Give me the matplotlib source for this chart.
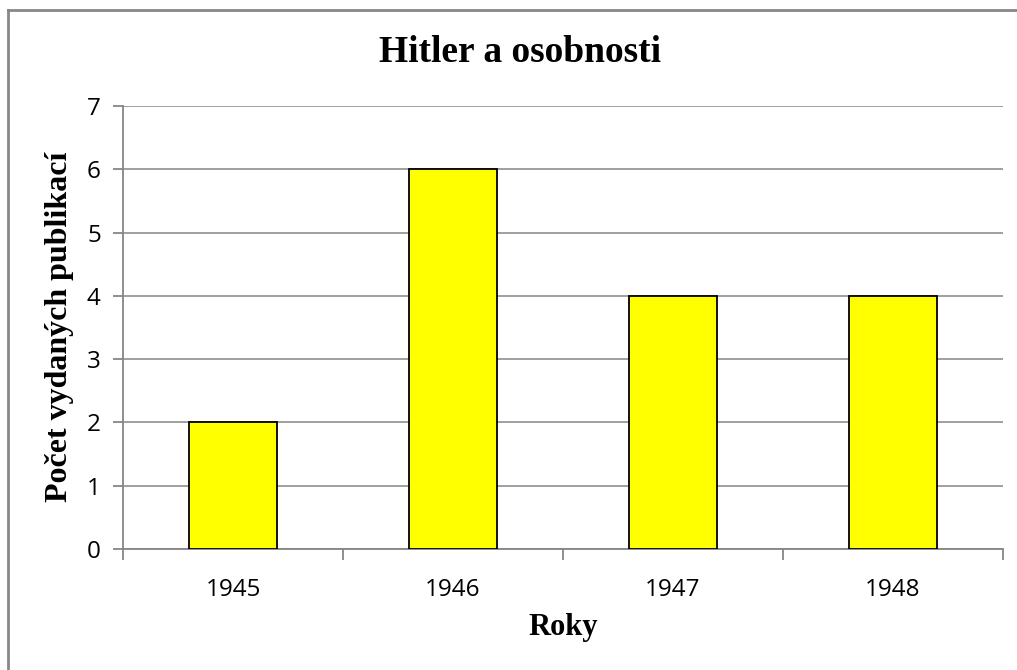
import matplotlib.pyplot as plt
from matplotlib.lines import Line2D

years = ['1945', '1946', '1947', '1948']
counts = [2, 6, 4, 4]
yticks = [0, 1, 2, 3, 4, 5, 6, 7]

W, H = 1017, 670
fig = plt.figure(figsize=(W / 100, H / 100), dpi=100)
ax = fig.add_axes([123 / W, 1 - 549 / H, 880 / W, 443 / H])

grey = '#868686'
x = range(len(years))
ax.bar(x, counts, width=0.4, color='#FFFF00', edgecolor='black', linewidth=1.3, zorder=3)

ax.set_xlim(-0.5, len(years) - 0.5)
ax.set_ylim(0, 7)
ax.set_yticks(yticks)
ax.set_xticks(list(x))
ax.set_xticklabels(years, fontsize=17.5, family='Open Sans')
ax.set_xticks([i - 0.5 for i in range(len(years) + 1)], minor=True)
ax.tick_params(axis='x', which='major', length=0, pad=21)
ax.tick_params(axis='x', which='minor', length=8, width=1.3, color=grey, direction='out')
ax.tick_params(axis='y', length=7, width=1.3, color=grey, pad=9, labelsize=17.5)
for lbl in ax.get_yticklabels():
    lbl.set_family('Open Sans')

ax.yaxis.grid(True, color=grey, linewidth=1.1, zorder=0)
ax.set_axisbelow(True)
for s in ['top', 'right']:
    ax.spines[s].set_visible(False)
for s in ['left', 'bottom']:
    ax.spines[s].set_color(grey)
    ax.spines[s].set_linewidth(1.3)

serif = 'Liberation Serif'
fig.text(520 / W, 1 - 52 / H, 'Hitler a osobnosti', ha='center', va='center',
         fontsize=27, fontweight='bold', family=serif)
fig.text(563 / W, 1 - 627 / H, 'Roky', ha='center', va='center',
         fontsize=22, fontweight='bold', family=serif)
fig.text(60 / W, 1 - 327 / H, 'Počet vydaných publikací', ha='center', va='center',
         rotation=90, fontsize=23, fontweight='bold', family=serif)

# outer chart border (cut off on right and bottom)
fig.add_artist(Line2D([8 / W, 8 / W], [0, 1 - 10 / H], color='#878787', linewidth=2,
                      transform=fig.transFigure))
fig.add_artist(Line2D([8 / W, 1], [1 - 10 / H, 1 - 10 / H], color='#878787', linewidth=2,
                      transform=fig.transFigure))

fig.savefig('out.png', dpi=100)
